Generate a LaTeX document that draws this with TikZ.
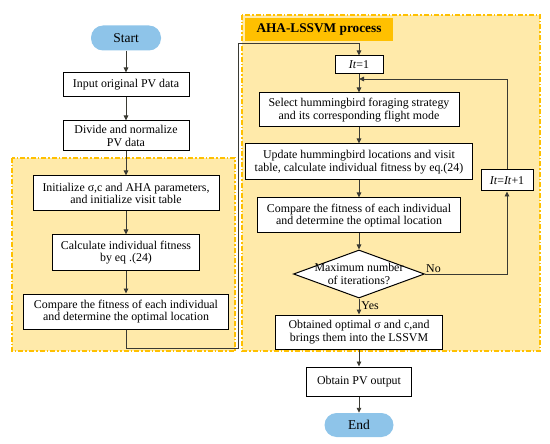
\documentclass[tikz,border=0pt]{standalone}
\usepackage{fontspec}
\setmainfont{Liberation Serif}
\usetikzlibrary{arrows.meta,shapes.geometric}
\definecolor{regfill}{HTML}{FFEAAA}
\definecolor{regdraw}{HTML}{FFC000}
\definecolor{titlefill}{HTML}{FFC000}
\definecolor{termfill}{HTML}{8EC4E9}
\definecolor{linecol}{HTML}{3A3A33}
\newcommand{\fs}{\fontsize{11.9}{12.6}\selectfont}
\begin{document}
\begin{tikzpicture}[x=1pt,y=-1pt,
  box/.style={draw=black, line width=1pt, fill=white, align=center, inner sep=0pt, font=\fs},
  term/.style={fill=termfill, rounded corners=12pt, inner sep=0pt, font=\fontsize{13.5}{14}\selectfont},
  conn/.style={draw=linecol, line width=0.9pt},
  arr/.style={conn, -{Triangle[length=5pt,width=4.5pt]}},
  region/.style={fill=regfill, draw=regdraw, line width=1.2pt, dash pattern=on 5pt off 2pt on 1.5pt off 2pt},
  lbl/.style={font=\fs, inner sep=0pt}]
\useasboundingbox (0,0) rectangle (550,444);
% regions
\draw[region] (12,158) rectangle (235,351);
\draw[region] (242,15) rectangle (540,351);
\node[fill=titlefill, minimum width=148pt, minimum height=23pt, inner sep=0pt, font=\bfseries\fontsize{13.3}{14}\selectfont] (title) at (319,29.5) {AHA-LSSVM process};
% left column
\node[term, minimum width=70pt, minimum height=25pt] (start) at (126,38) {Start};
\node[box, minimum width=126pt, minimum height=24pt] (input) at (126,85) {Input original PV data};
\node[box, minimum width=126pt, minimum height=30pt] (divide) at (126,136) {Divide and normalize\\PV data};
\node[box, minimum width=186pt, minimum height=35pt] (init) at (126,193.5) {Initialize σ,c and AHA parameters,\\and initialize visit table};
\node[box, minimum width=147pt, minimum height=35pt] (calc) at (126,252.5) {Calculate individual fitness\\by eq .(24)};
\node[box, minimum width=205pt, minimum height=35pt] (cmpL) at (126,311.5) {Compare the fitness of each individual\\and determine the optimal location};
% right column
\node[box, minimum width=48pt, minimum height=18pt] (it1) at (359,65) {\textit{It}=1};
\node[box, minimum width=200pt, minimum height=34pt] (sel) at (359,110) {Select hummingbird foraging strategy\\and its corresponding flight mode};
\node[box, minimum width=227pt, minimum height=36pt] (upd) at (359,162) {Update hummingbird locations and visit\\table, calculate individual fitness by eq.(24)};
\node[box, minimum width=52pt, minimum height=21pt] (inc) at (507,180.5) {\textit{It}=\textit{It}+1};
\node[box, minimum width=203pt, minimum height=35pt] (cmpR) at (359,215.5) {Compare the fitness of each individual\\and determine the optimal location};
\node[diamond, draw=black, line width=1pt, fill=white, minimum width=131pt, minimum height=48pt, inner sep=0pt] (dia) at (359,274) {};
\node[lbl, align=center] (diatext) at (dia.center) {Maximum number\\of iterations?};
\node[box, minimum width=167pt, minimum height=34pt] (obt) at (359,332) {Obtained optimal σ and c,and\\brings them into the LSSVM};
\node[box, minimum width=105pt, minimum height=29pt] (out) at (359,381.5) {Obtain PV output};
\node[term, minimum width=69pt, minimum height=24pt] (end) at (359,425) {End};
\coordinate (join) at (359,79);
% connectors
\draw[arr] (start) -- (input);
\draw[arr] (input) -- (divide);
\draw[arr] (divide) -- (init);
\draw[arr] (init) -- (calc);
\draw[arr] (calc) -- (cmpL);
\draw[arr] (cmpL.south) -- ++(0,19) -| (238,43) -| (it1.north);
\draw[arr] (it1) -- (sel);
\draw[arr] (sel) -- (upd);
\draw[arr] (upd) -- (cmpR);
\draw[arr] (cmpR) -- (dia);
\draw[arr] (dia.south) -- (obt.north) node[lbl, pos=0.45, anchor=west, xshift=2pt] (yes) {Yes};
\draw[arr] (dia.east) -| (inc.south);
\node[lbl, anchor=south west, xshift=1pt, yshift=1.5pt] (no) at (dia.east) {No};
\draw[arr] (inc.north) |- (join);
\draw[arr] (obt) -- (out);
\draw[arr] (out) -- (end);
\end{tikzpicture}
\end{document}
